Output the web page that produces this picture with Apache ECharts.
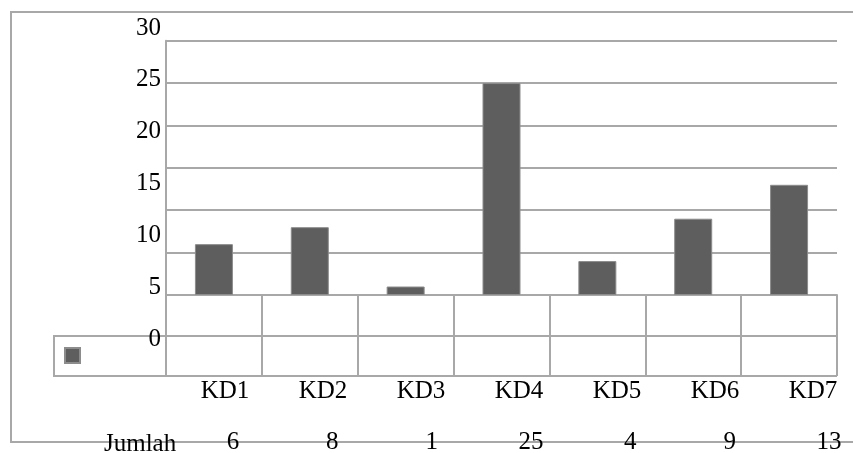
<!DOCTYPE html>
<html>
<head>
<meta charset="utf-8">
<script src="https://cdn.jsdelivr.net/npm/echarts@6/dist/echarts.min.js"></script>
<style>html,body{margin:0;padding:0;background:#fff}#c{width:853px;height:453px}</style>
</head>
<body>
<div id="c"></div>
<script>
var categories = ['KD1', 'KD2', 'KD3', 'KD4', 'KD5', 'KD6', 'KD7'];
var jumlah = [6, 8, 1, 25, 4, 9, 13];
var seriesName = 'Jumlah';
var yTicks = [0, 5, 10, 15, 20, 25, 30];

var FONT = 'Liberation Serif';
var FS = 25;
var GRAY = '#a8a8a8';
var chart = echarts.init(document.getElementById('c'));
var yMin = yTicks[0], yMax = yTicks[yTicks.length - 1], yStep = yTicks[1] - yTicks[0];

chart.setOption({
  animation: false,
  grid: [
    { left: 166, top: 40.7, width: 671, height: 254.3 },
    { left: 225, top: 370, width: 588, height: 1 },
    { left: 233, top: 420, width: 596, height: 1 },
    { left: 166, top: 28, width: 671, height: 311 }
  ],
  legend: {
    show: true, data: [seriesName], left: 64, top: 347,
    itemWidth: 15, itemHeight: 15, icon: 'rect', formatter: function () { return ''; },
    itemGap: 0, padding: 0
  },
  xAxis: [
    { gridIndex: 0, type: 'category', data: categories, boundaryGap: true,
      axisLine: { show: true, lineStyle: { color: GRAY, width: 2 } },
      axisTick: { show: true, length: 81, inside: false, lineStyle: { color: GRAY, width: 2 } },
      axisLabel: { show: false } },
    { gridIndex: 1, type: 'category', data: categories, boundaryGap: false,
      axisLine: { show: false }, axisTick: { show: false },
      axisLabel: { show: true, margin: 8, fontFamily: FONT, fontSize: FS, color: '#000' } },
    { gridIndex: 2, type: 'category', data: jumlah.map(String), boundaryGap: false,
      axisLine: { show: false }, axisTick: { show: false },
      axisLabel: { show: true, margin: 10, fontFamily: FONT, fontSize: FS, color: '#000' } },
    { gridIndex: 3, type: 'category', data: categories, show: false }
  ],
  yAxis: [
    { gridIndex: 0, type: 'value', min: yMin, max: yMax, interval: yStep,
      axisLine: { show: true, lineStyle: { color: GRAY, width: 2 } },
      axisTick: { show: false }, axisLabel: { show: false },
      splitLine: { show: true, lineStyle: { color: GRAY, width: 2 } } },
    { gridIndex: 1, type: 'value', show: false },
    { gridIndex: 2, type: 'value', show: false },
    { gridIndex: 3, type: 'value', min: yMin, max: yMax, interval: yStep,
      axisLine: { show: false }, axisTick: { show: false }, splitLine: { show: false },
      axisLabel: { show: true, margin: 5, fontFamily: FONT, fontSize: FS, color: '#000' } }
  ],
  series: [{
    name: seriesName, type: 'bar', xAxisIndex: 0, yAxisIndex: 0,
    data: jumlah, barWidth: 38,
    itemStyle: { color: '#5e5e5e', borderColor: '#8c8c8c', borderWidth: 1 }
  }],
  graphic: [
    { type: 'polyline', z: 0, shape: { points: [[853, 12], [11, 12], [11, 442], [853, 442]] },
      style: { stroke: GRAY, lineWidth: 2, fill: null } },
    { type: 'rect', z: 0, shape: { x: 54, y: 336, width: 112, height: 40 },
      style: { stroke: GRAY, lineWidth: 2, fill: null } },
    { type: 'line', z: 0, shape: { x1: 166, y1: 336, x2: 837, y2: 336 },
      style: { stroke: GRAY, lineWidth: 2 } },
    { type: 'line', z: 0, shape: { x1: 166, y1: 376, x2: 837, y2: 376 },
      style: { stroke: GRAY, lineWidth: 2 } },
    { type: 'text', z: 10, x: 104, y: 444,
      style: { text: seriesName, font: FS + 'px "Liberation Serif"', fill: '#000', verticalAlign: 'middle', align: 'left' } }
  ]
});
</script>
</body>
</html>
